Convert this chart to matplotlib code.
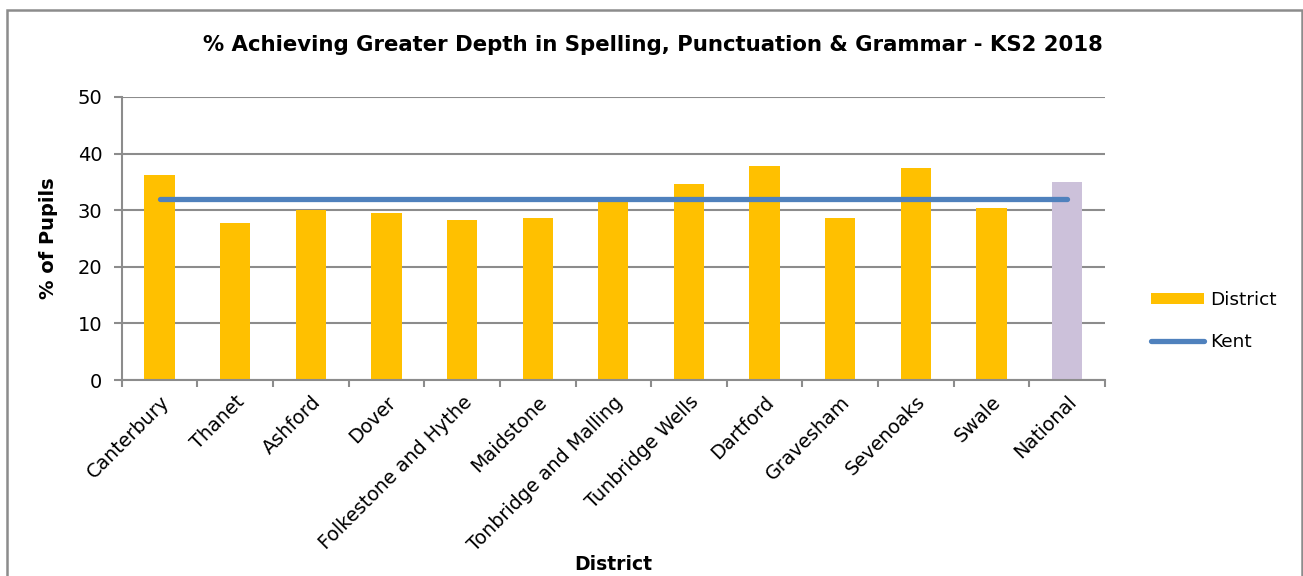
import matplotlib
matplotlib.use("Agg")
import matplotlib.pyplot as plt
from matplotlib.patches import Rectangle, Patch
from matplotlib.lines import Line2D
import numpy as np

categories = ["Canterbury", "Thanet", "Ashford", "Dover", "Folkestone and Hythe",
              "Maidstone", "Tonbridge and Malling", "Tunbridge Wells", "Dartford",
              "Gravesham", "Sevenoaks", "Swale", "National"]
district = [36.2, 27.8, 30.1, 29.5, 28.2, 28.6, 32.1, 34.6, 37.8, 28.6, 37.5, 30.4, 35.0]
kent = [32.0] * len(categories)
y_ticks = [0, 10, 20, 30, 40, 50]

W, H = 1303, 576
fig = plt.figure(figsize=(W / 100, H / 100), dpi=100)
fig.patch.set_facecolor("white")

# chart border
fig.patches.append(Rectangle((7 / W, -0.05), (1302 - 7) / W, 1.05 - 10 / H,
                             transform=fig.transFigure, fill=False,
                             edgecolor="#8C8C8C", linewidth=1.8))

ax = fig.add_axes([121.7 / W, 1 - 380 / H, (1105 - 121.7) / W, (380 - 97) / H])
x = np.arange(len(categories))
colors = ["#FFC000"] * (len(categories) - 1) + ["#CCC1DA"]
ax.bar(x, district, width=0.4, color=colors, zorder=2)
ax.plot(x, kent, color="#4F81BD", linewidth=3.8, solid_capstyle="round", zorder=3)

ax.set_xlim(-0.5, len(categories) - 0.5)
ax.set_ylim(0, 50)
ax.set_yticks(y_ticks)
ax.set_yticklabels([str(t) for t in y_ticks], fontsize=14)
ax.yaxis.grid(True, color="#8C8C8C", linewidth=1.5, zorder=0)
ax.set_axisbelow(True)

ax.set_xticks(x)
ax.set_xticklabels(categories, rotation=45, ha="right", rotation_mode="anchor", fontsize=13.8)
ax.tick_params(axis="x", length=0, pad=9)
ax.set_xticks(np.arange(-0.5, len(categories), 1), minor=True)
ax.tick_params(axis="x", which="minor", length=5, color="#8C8C8C", width=1.5)
ax.tick_params(axis="y", length=6, color="#8C8C8C", width=1.5, pad=8)

for s in ["top", "right"]:
    ax.spines[s].set_visible(False)
for s in ["left", "bottom"]:
    ax.spines[s].set_color("#8C8C8C")
    ax.spines[s].set_linewidth(1.5)

fig.text(653 / W, 1 - 45 / H, "% Achieving Greater Depth in Spelling, Punctuation & Grammar - KS2 2018",
         ha="center", va="center", fontsize=15.3, fontweight="bold")
fig.text(48 / W, 1 - 238 / H, "% of Pupils", rotation=90, ha="center", va="center",
         fontsize=14, fontweight="bold")
fig.text(613 / W, 1 - 565 / H, "District", ha="center", va="center",
         fontsize=13.5, fontweight="bold")

handles = [Patch(facecolor="#FFC000", edgecolor="none"),
           Line2D([0], [0], color="#4F81BD", linewidth=3.8, solid_capstyle="round")]
fig.legend(handles, ["District", "Kent"], loc="center left",
           bbox_to_anchor=(1134 / W, 1 - 321 / H), frameon=False, fontsize=13.3,
           handlelength=2.9, handleheight=0.6, labelspacing=1.3, handletextpad=0.3)

fig.savefig("out.png", dpi=100, facecolor="white")
